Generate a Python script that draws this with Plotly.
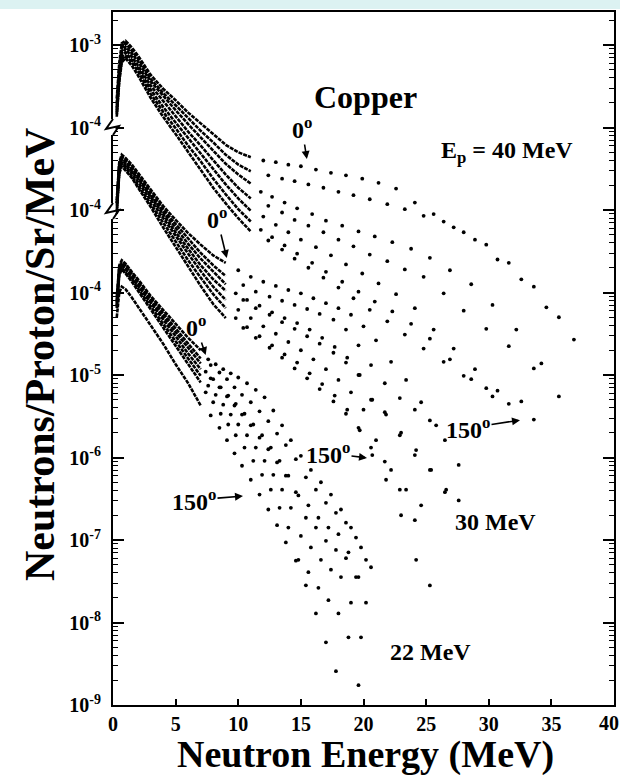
import plotly.graph_objects as go

FONT = "Liberation Serif"

# ---------------- energy grids (MeV) ----------------
E40_core = [0.3, 0.5, 0.7, 1.0, 1.5, 2, 3, 4, 5, 6, 7, 8, 9, 10, 11]
E40_tailA = [12, 13, 14, 15, 16.2, 17.4, 18.6, 19.9, 21.2, 22.6, 24.1, 25.6, 27.2, 28.9, 30.7, 32.6, 34.6, 36.8]
E40_tailB = [12.4, 13.5, 14.5, 15.6, 16.8, 18.0, 19.2, 20.5, 21.9, 23.3, 24.8, 26.4, 28.0, 29.8, 31.6, 33.6, 35.6]
E40_tailC = [11.8, 12.7, 13.7, 14.7, 15.9, 17.0, 18.3, 19.6, 20.9, 22.3, 23.8, 25.3, 26.9, 28.6, 30.3, 32.2, 34.2]
E30_core = [0.3, 0.5, 0.7, 1.0, 1.5, 2, 3, 4, 5, 6, 7, 8, 9]
E30_tailA = [10, 11, 12, 13, 14, 15, 16, 17, 18, 19, 20, 21, 22.2, 23.4, 24.6, 25.8, 27]
E30_tailB = [10.4, 11.4, 12.5, 13.5, 14.5, 15.5, 16.5, 17.6, 18.6, 19.6, 20.6, 21.7, 22.9, 24.1, 25.3, 26.5, 27.6]
E30_tailC = [9.8, 10.7, 11.7, 12.7, 13.7, 14.7, 15.7, 16.7, 17.7, 18.7, 19.7, 20.7, 21.8, 23.0, 24.2, 25.4, 26.6]
E22_core = [0.3, 0.5, 0.7, 1.0, 1.5, 2, 3, 4, 5, 6, 7]
E22_tailA = [7.6, 8.2, 8.8, 9.4, 10, 10.7, 11.4, 12.1, 12.8, 13.5, 14.2, 15, 15.8, 16.6, 17.4, 18.2, 19, 19.8, 20.6]
E22_tailB = [7.8, 8.5, 9.1, 9.7, 10.3, 11.0, 11.7, 12.4, 13.1, 13.8, 14.6, 15.4, 16.2, 17.0, 17.8, 18.6, 19.4, 20.2, 21.0]
E22_tailC = [7.4, 8.0, 8.6, 9.2, 9.8, 10.5, 11.2, 11.9, 12.6, 13.3, 14.0, 14.8, 15.6, 16.4, 17.2, 18.0, 18.8, 19.6, 20.4]

ANGLES = ["0°", "15°", "30°", "60°", "90°", "120°", "150°"]

# ---------------- log10(neutrons/proton/sr/MeV) ----------------
# Ep = 40 MeV
log40_0 = [-3.65, -3.22, -2.98, -2.95, -3.03, -3.13, -3.36, -3.53, -3.67, -3.82, -3.95, -4.08, -4.21, -4.30, -4.36,
           -4.40, -4.42, -4.45, -4.47, -4.51, -4.55, -4.58, -4.62, -4.67, -4.74, -4.91, -5.05, -5.21, -5.36, -5.60, -5.84, -6.18, -6.57]
log40_15 = [-3.71, -3.27, -3.03, -2.98, -3.07, -3.16, -3.41, -3.58, -3.73, -3.89, -4.04, -4.18, -4.33, -4.45, -4.53,
            -4.58, -4.62, -4.65, -4.69, -4.73, -4.78, -4.82, -4.87, -4.93, -4.99, -5.07, -5.14, -5.27, -5.42, -5.64, -5.93, -6.30]
log40_30 = [-3.76, -3.31, -3.07, -3.02, -3.10, -3.20, -3.44, -3.62, -3.79, -3.96, -4.12, -4.28, -4.44, -4.57, -4.68,
            -4.78, -4.84, -4.91, -4.98, -5.05, -5.13, -5.19, -5.26, -5.32, -5.39, -5.47, -5.58, -5.73, -5.90, -6.15, -6.45, -6.86]
log40_60 = [-3.79, -3.35, -3.10, -3.05, -3.14, -3.25, -3.49, -3.68, -3.87, -4.05, -4.22, -4.40, -4.57, -4.73, -4.86,
            -4.95, -5.03, -5.12, -5.19, -5.27, -5.36, -5.44, -5.54, -5.62, -5.72, -5.81, -6.01, -6.22, -6.44, -6.65, -6.92, -7.26]
log40_90 = [-3.82, -3.38, -3.14, -3.09, -3.18, -3.28, -3.54, -3.75, -3.94, -4.13, -4.32, -4.51, -4.69, -4.86, -5.01,
            -5.08, -5.18, -5.27, -5.36, -5.45, -5.55, -5.66, -5.77, -5.89, -6.02, -6.19, -6.45, -6.68, -6.93, -7.19, -7.32]
log40_120 = [-3.84, -3.42, -3.18, -3.13, -3.21, -3.32, -3.59, -3.81, -4.01, -4.22, -4.41, -4.62, -4.81, -4.99, -5.14,
             -5.24, -5.33, -5.43, -5.53, -5.64, -5.75, -5.87, -5.99, -6.11, -6.23, -6.38, -6.56, -6.81, -7.05, -7.26]
log40_150 = [-3.87, -3.45, -3.21, -3.16, -3.25, -3.37, -3.64, -3.87, -4.08, -4.30, -4.51, -4.73, -4.92, -5.10, -5.26,
             -5.37, -5.48, -5.59, -5.70, -5.82, -5.94, -6.07, -6.21, -6.35, -6.51, -6.68, -6.84, -7.01, -7.16, -7.35, -7.54]

# Ep = 30 MeV
log30_0 = [-3.88, -3.42, -3.33, -3.37, -3.45, -3.55, -3.76, -3.95, -4.12, -4.28, -4.42, -4.55, -4.64,
           -4.73, -4.81, -4.87, -4.92, -4.97, -5.01, -5.07, -5.13, -5.19, -5.27, -5.41, -5.58, -5.84, -6.06, -6.33, -6.61]
log30_15 = [-3.92, -3.44, -3.36, -3.39, -3.48, -3.58, -3.79, -3.99, -4.17, -4.35, -4.52, -4.67, -4.80,
            -4.91, -4.99, -5.05, -5.10, -5.15, -5.20, -5.26, -5.33, -5.45, -5.64, -5.88, -6.10, -6.28, -6.42, -6.55, -6.79, -7.09]
log30_30 = [-3.94, -3.47, -3.37, -3.42, -3.50, -3.60, -3.82, -4.02, -4.22, -4.41, -4.59, -4.75, -4.90,
            -5.01, -5.09, -5.16, -5.24, -5.31, -5.37, -5.45, -5.55, -5.66, -5.79, -6.00, -6.30, -6.48, -6.70, -6.91, -7.15, -7.39]
log30_60 = [-3.96, -3.49, -3.39, -3.44, -3.53, -3.62, -3.84, -4.06, -4.27, -4.47, -4.67, -4.84, -4.98,
            -5.09, -5.19, -5.27, -5.36, -5.44, -5.53, -5.62, -5.73, -5.85, -6.00, -6.30, -6.45, -6.73, -6.97, -7.15, -7.42, -7.52]
log30_90 = [-3.99, -3.52, -3.42, -3.47, -3.55, -3.66, -3.88, -4.10, -4.32, -4.53, -4.74, -4.93, -5.09,
            -5.21, -5.31, -5.41, -5.50, -5.60, -5.70, -5.81, -5.93, -6.06, -6.21, -6.42, -6.79, -7.15, -7.39, -7.58]
log30_120 = [-4.01, -3.54, -3.44, -3.49, -3.59, -3.70, -3.92, -4.15, -4.38, -4.61, -4.82, -5.02, -5.19,
             -5.31, -5.42, -5.53, -5.64, -5.75, -5.85, -5.98, -6.11, -6.25, -6.42, -6.67, -6.97, -7.27, -7.70, -8.24]
log30_150 = [-4.04, -3.56, -3.47, -3.52, -3.61, -3.73, -3.96, -4.21, -4.45, -4.69, -4.92, -5.14, -5.31,
             -5.43, -5.55, -5.67, -5.79, -5.92, -6.04, -6.17, -6.32, -6.47, -6.64, -6.88, -7.05, -7.39, -7.76, -8.55]

# Ep = 22 MeV
log22_0 = [-4.06, -3.67, -3.61, -3.65, -3.75, -3.84, -4.04, -4.21, -4.38, -4.55, -4.70,
           -4.81, -4.87, -4.93, -4.98, -5.03, -5.10, -5.18, -5.27, -5.43, -5.61, -5.79, -5.98, -6.15, -6.30, -6.45, -6.63, -6.85, -7.09, -7.33]
log22_15 = [-4.10, -3.70, -3.64, -3.67, -3.77, -3.87, -4.07, -4.25, -4.44, -4.62, -4.80,
            -4.88, -4.97, -5.05, -5.15, -5.24, -5.33, -5.44, -5.56, -5.71, -5.85, -6.02, -6.24, -6.39, -6.55, -6.67, -6.79, -6.97, -7.24]
log22_30 = [-4.12, -3.72, -3.65, -3.70, -3.79, -3.89, -4.10, -4.29, -4.48, -4.68, -4.86,
            -4.96, -5.05, -5.15, -5.25, -5.35, -5.47, -5.60, -5.73, -5.88, -6.04, -6.22, -6.46, -6.58, -6.73, -6.85, -6.93, -7.15, -7.45]
log22_60 = [-4.15, -3.75, -3.67, -3.72, -3.82, -3.92, -4.13, -4.33, -4.53, -4.74, -4.93,
            -5.04, -5.15, -5.26, -5.37, -5.48, -5.61, -5.76, -5.90, -6.06, -6.22, -6.42, -6.73, -6.85, -7.01, -7.12, -7.22, -7.45, -7.76]
log22_90 = [-4.17, -3.77, -3.70, -3.75, -3.84, -3.95, -4.17, -4.38, -4.59, -4.80, -5.01,
            -5.13, -5.24, -5.36, -5.48, -5.60, -5.73, -5.88, -6.04, -6.21, -6.39, -6.61, -6.95, -7.09, -7.24, -7.36, -7.45, -7.76, -8.18]
log22_120 = [-4.19, -3.79, -3.72, -3.77, -3.87, -3.98, -4.21, -4.42, -4.65, -4.87, -5.09,
             -5.21, -5.33, -5.47, -5.60, -5.73, -5.88, -6.04, -6.21, -6.39, -6.61, -6.85, -7.24, -7.39, -7.58, -7.73, -7.89, -8.18, -8.76]
log22_150 = [-4.30, -4.00, -3.93, -3.96, -4.06, -4.17, -4.39, -4.62, -4.87, -5.10, -5.37,
             -5.49, -5.64, -5.79, -5.95, -6.10, -6.27, -6.45, -6.63, -6.82, -7.03, -7.25, -7.55, -7.89, -8.24, -8.59]

# display offsets of the stacked groups (decades shifted, as in the original figure)
GROUPS = [
    ("Ep = 40 MeV", 100, E40_core,
     [E40_tailA, E40_tailB, E40_tailC, E40_tailB, E40_tailA, E40_tailC, E40_tailB],
     [log40_0, log40_15, log40_30, log40_60, log40_90, log40_120, log40_150]),
    ("Ep = 30 MeV", 10, E30_core,
     [E30_tailA, E30_tailB, E30_tailC, E30_tailB, E30_tailA, E30_tailC, E30_tailB],
     [log30_0, log30_15, log30_30, log30_60, log30_90, log30_120, log30_150]),
    ("Ep = 22 MeV", 1, E22_core,
     [E22_tailA, E22_tailB, E22_tailC, E22_tailB, E22_tailA, E22_tailC, E22_tailB],
     [log22_0, log22_15, log22_30, log22_60, log22_90, log22_120, log22_150]),
]

Y_TICKVALS = [1e-9, 1e-8, 1e-7, 1e-6, 1e-5, 1e-4, 1e-3, 1e-2, 1e-1]
Y_TICKTEXT = ["10<sup>-9</sup>", "10<sup>-8</sup>", "10<sup>-7</sup>", "10<sup>-6</sup>", "10<sup>-5</sup>",
              "10<sup>-4</sup>", "10<sup>-4</sup>", "10<sup>-4</sup>", "10<sup>-3</sup>"]
X_TICKVALS = [0, 5, 10, 15, 20, 25, 30, 35, 40]

fig = go.Figure()
for gname, offset, ecore, etails, curves in GROUPS:
    for ang, etail, L in zip(ANGLES, etails, curves):
        n = len(ecore)
        core = [10 ** v * offset for v in L[:n]]
        tail = [10 ** v * offset for v in L[n:]]
        fig.add_trace(go.Scatter(
            x=ecore, y=core, mode="lines", name=f"{gname} {ang}",
            line=dict(color="black", width=2.6, dash="4px,1px"), showlegend=False))
        fig.add_trace(go.Scatter(
            x=etail[:len(tail)], y=tail, mode="markers", name=f"{gname} {ang}",
            marker=dict(color="black", size=3.8), showlegend=False))

# ---------------- layout geometry ----------------
W, H = 620, 775
L_M, R_M, T_M, B_M = 113, 6, 12, 70
PW, PH = W - L_M - R_M, H - T_M - B_M


def px(xp):
    return (xp - L_M) / PW


def py(yp):
    return (H - B_M - yp) / PH


minor_vals = [m * 10 ** d for d in range(-9, 0) for m in range(2, 10)]

fig.update_layout(
    width=W, height=H,
    margin=dict(l=L_M, r=R_M, t=T_M, b=B_M),
    paper_bgcolor="white", plot_bgcolor="white",
    font=dict(family=FONT, color="black"),
    showlegend=False,
    xaxis=dict(range=[0, 40], tickmode="array", tickvals=X_TICKVALS,
               ticks="inside", ticklen=6, tickwidth=1.5, tickcolor="black",
               showline=True, linewidth=2, linecolor="black", mirror=True,
               showgrid=False, zeroline=False, automargin=False,
               tickfont=dict(family=FONT, size=20, color="black", weight="bold")),
    yaxis=dict(type="log", range=[-9, -0.6], tickmode="array",
               tickvals=Y_TICKVALS, ticktext=Y_TICKTEXT,
               ticks="inside", ticklen=11, tickwidth=1.5, tickcolor="black",
               showline=True, linewidth=2, linecolor="black", mirror="ticks",
               showgrid=False, zeroline=False, ticklabelstandoff=6, automargin=False,
               tickfont=dict(family=FONT, size=20, color="black", weight="bold"),
               minor=dict(tickmode="array", tickvals=minor_vals, ticks="inside",
                          ticklen=5, tickwidth=1, tickcolor="black", showgrid=False)),
)

shapes = []
# light scanned strip at the very top
shapes.append(dict(type="rect", xref="paper", yref="paper", x0=px(0), x1=px(W), y0=py(9), y1=py(0),
                   fillcolor="#dcf2f2", line=dict(width=0), layer="above"))
# axis break marks
for yb in (127, 211):
    shapes.append(dict(type="rect", xref="paper", yref="paper", x0=px(111), x1=px(115.5),
                       y0=py(yb + 8), y1=py(yb - 8), fillcolor="white", line=dict(width=0), layer="above"))
    path = (f"M {px(113)},{py(yb - 8)} L {px(106)},{py(yb + 2)} "
            f"L {px(119)},{py(yb - 1)} L {px(113)},{py(yb + 8)}")
    shapes.append(dict(type="path", xref="paper", yref="paper", path=path,
                       line=dict(color="black", width=2), layer="above"))
fig.update_layout(shapes=shapes)

ann = []


def text(x, y, s, size, **kw):
    kw.setdefault("xanchor", "center")
    ann.append(dict(x=px(x), y=py(y), xref="paper", yref="paper", text=s, showarrow=False,
                    yanchor="middle",
                    font=dict(family=FONT, size=size, color="black", weight="bold"), **kw))


def arrow_label(tx, ty, hx, hy, s, size=24):
    ann.append(dict(x=px(hx), y=py(hy), xref="paper", yref="paper", text=s, showarrow=True,
                    ax=tx - hx, ay=ty - hy, axref="pixel", ayref="pixel",
                    arrowhead=2, arrowsize=1, arrowwidth=1.6, arrowcolor="black", standoff=1,
                    font=dict(family=FONT, size=size, color="black", weight="bold")))


text(365, 97, "Copper", 32)
text(507, 152, "E<sub>p</sub> = 40 MeV", 24)
text(495, 522, "30 MeV", 24)
text(430, 652, "22 MeV", 24)
arrow_label(302, 128, 307, 160, "0<sup>o</sup>")
arrow_label(217, 218, 227, 259, "0<sup>o</sup>")
arrow_label(196, 326, 206, 356, "0<sup>o</sup>")
arrow_label(468, 428, 521, 420, "150<sup>o</sup>")
arrow_label(328, 453, 368, 458, "150<sup>o</sup>")
arrow_label(194, 500, 244, 496, "150<sup>o</sup>")
# last x tick label, which sits at the very right edge of the page
text(621, 723, "40", 20, xanchor="right")
# axis titles
text(365, 754, "Neutron Energy (MeV)", 38)
text(40, 355, "Neutrons/Proton/Sr/MeV", 42, textangle=-90)
fig.update_layout(annotations=ann)

fig.write_html("out.html", config={"displayModeBar": False},
               post_script="document.body.style.margin='0';document.body.style.padding='0';")
